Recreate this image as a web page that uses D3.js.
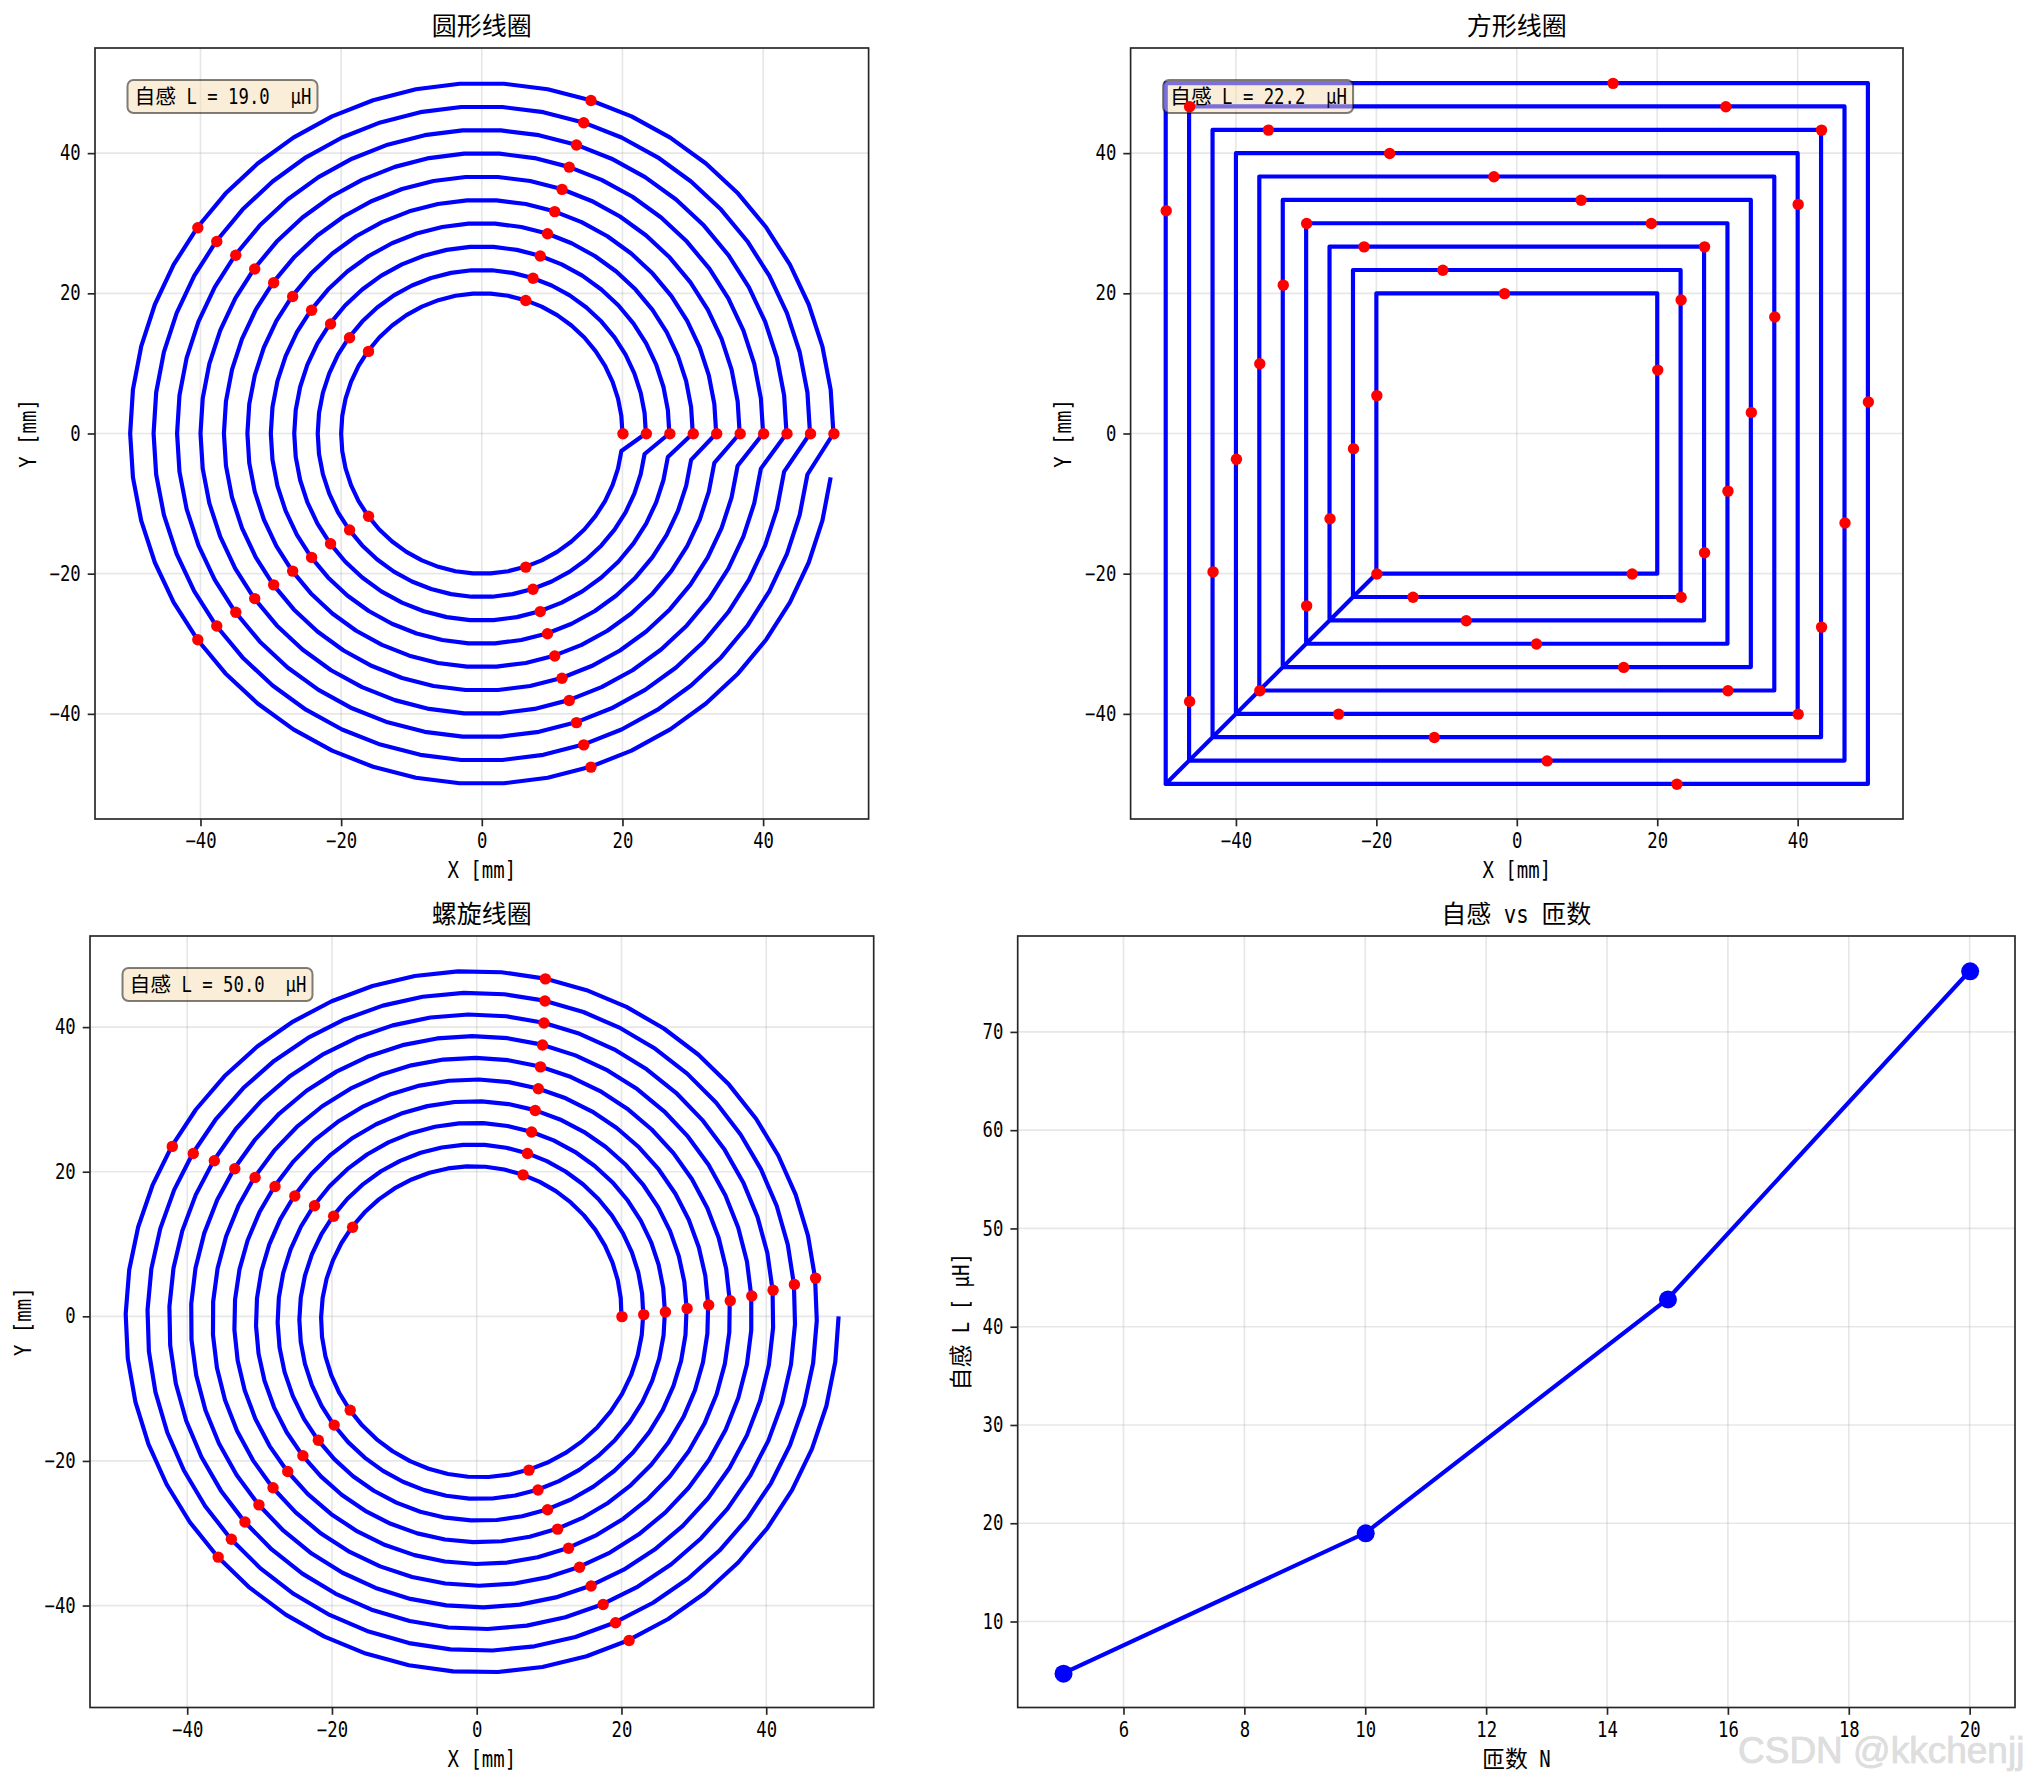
<!DOCTYPE html>
<html>
<head>
<meta charset="utf-8">
<script src="https://d3js.org/d3.v7.min.js"></script>
<style>
    html, body { margin: 0; padding: 0; background: #fff; }
    svg { display: block; }
    text { white-space: pre; fill: #000; }
</style>
</head>
<body>
<div id="chart"></div>
<script>
/*
DATA
*/
const titles = ["圆形线圈", "方形线圈", "螺旋线圈", "自感 vs 匝数"];
const boxLabels = ["自感 L = 19.0 μH", "自感 L = 22.2 μH", "自感 L = 50.0 μH"];
const coilTicks = [-40, -20, 0, 20, 40];
const turnTicks = [6, 8, 10, 12, 14, 16, 18, 20];
const inductanceTicks = [10, 20, 30, 40, 50, 60, 70];

// circular coil: radius of each turn, angle (deg) of each vertex in a turn
const circleRadius = [20, 23.33, 26.67, 30, 33.33, 36.67, 40, 43.33, 46.67, 50];
const circleAngle = [0, 7.2, 14.4, 21.6, 28.8, 36, 43.2, 50.4, 57.6, 64.8,
    72, 79.2, 86.4, 93.6, 100.8, 108, 115.2, 122.4, 129.6, 136.8,
    144, 151.2, 158.4, 165.6, 172.8, 180, 187.2, 194.4, 201.6, 208.8,
    216, 223.2, 230.4, 237.6, 244.8, 252, 259.2, 266.4, 273.6, 280.8,
    288, 295.2, 302.4, 309.6, 316.8, 324, 331.2, 338.4, 345.6, 352.8];

// square coil: half side of each turn, red points along the wire
const squareHalf = [20, 23.33, 26.67, 30, 33.33, 36.67, 40, 43.33, 46.67, 50];
const squareDotX = [-20, 16.36, 20, -1.82, -20, -14.85, 23.33, 23.33, -10.61, -23.33,
    -7.27, 26.67, 26.67, -21.82, -26.67, 2.73, 30, 19.09, -30, -30,
    15.15, 33.33, 9.09, -33.33, -36.67, 30, 36.67, -3.33, -36.67,
    -25.45, 40, 40, -18.18, -40, -11.82, 43.33, 43.33, -35.45, -43.33,
    4.24, 46.67, 29.7, -46.67, -46.67, 22.73, 50, 13.64, -50];
const squareDotY = [-20, -20, 9.09, 20, 5.45, -23.33, -23.33, 19.09, 23.33, -2.12,
    -26.67, -16.97, 26.67, 26.67, -12.12, -30, -8.18, 30, 30, -24.55,
    -33.33, 3.03, 33.33, 21.21, -36.67, -36.67, 16.67, 36.67, 10,
    -40, -40, 32.73, 40, -3.64, -43.33, -27.58, 43.33, 43.33, -19.7,
    -46.67, -12.73, 46.67, 46.67, -38.18, -50, 4.55, 50, 31.82];

// spiral coil: radius and angle (deg) of every vertex
const spiralRadius = [
    20.00,20.06,20.12,20.18,20.24,20.30,20.36,20.42,20.48,20.54,
    20.60,20.66,20.72,20.78,20.84,20.90,20.96,21.02,21.08,21.14,
    21.20,21.26,21.32,21.38,21.44,21.50,21.56,21.62,21.68,21.74,
    21.80,21.86,21.92,21.98,22.04,22.10,22.16,22.22,22.28,22.34,
    22.40,22.46,22.53,22.59,22.65,22.71,22.77,22.83,22.89,22.95,
    23.01,23.07,23.13,23.19,23.25,23.31,23.37,23.43,23.49,23.55,
    23.61,23.67,23.73,23.79,23.85,23.91,23.97,24.03,24.09,24.15,
    24.21,24.27,24.33,24.39,24.45,24.51,24.57,24.63,24.69,24.75,
    24.81,24.87,24.93,24.99,25.05,25.11,25.17,25.23,25.29,25.35,
    25.41,25.47,25.53,25.59,25.65,25.71,25.77,25.83,25.89,25.95,
    26.01,26.07,26.13,26.19,26.25,26.31,26.37,26.43,26.49,26.55,
    26.61,26.67,26.73,26.79,26.85,26.91,26.97,27.03,27.09,27.15,
    27.21,27.27,27.33,27.40,27.46,27.52,27.58,27.64,27.70,27.76,
    27.82,27.88,27.94,28.00,28.06,28.12,28.18,28.24,28.30,28.36,
    28.42,28.48,28.54,28.60,28.66,28.72,28.78,28.84,28.90,28.96,
    29.02,29.08,29.14,29.20,29.26,29.32,29.38,29.44,29.50,29.56,
    29.62,29.68,29.74,29.80,29.86,29.92,29.98,30.04,30.10,30.16,
    30.22,30.28,30.34,30.40,30.46,30.52,30.58,30.64,30.70,30.76,
    30.82,30.88,30.94,31.00,31.06,31.12,31.18,31.24,31.30,31.36,
    31.42,31.48,31.54,31.60,31.66,31.72,31.78,31.84,31.90,31.96,
    32.02,32.08,32.14,32.20,32.27,32.33,32.39,32.45,32.51,32.57,
    32.63,32.69,32.75,32.81,32.87,32.93,32.99,33.05,33.11,33.17,
    33.23,33.29,33.35,33.41,33.47,33.53,33.59,33.65,33.71,33.77,
    33.83,33.89,33.95,34.01,34.07,34.13,34.19,34.25,34.31,34.37,
    34.43,34.49,34.55,34.61,34.67,34.73,34.79,34.85,34.91,34.97,
    35.03,35.09,35.15,35.21,35.27,35.33,35.39,35.45,35.51,35.57,
    35.63,35.69,35.75,35.81,35.87,35.93,35.99,36.05,36.11,36.17,
    36.23,36.29,36.35,36.41,36.47,36.53,36.59,36.65,36.71,36.77,
    36.83,36.89,36.95,37.01,37.07,37.14,37.20,37.26,37.32,37.38,
    37.43,37.50,37.56,37.62,37.68,37.74,37.80,37.86,37.92,37.98,
    38.04,38.10,38.16,38.22,38.28,38.34,38.40,38.46,38.52,38.58,
    38.64,38.70,38.76,38.82,38.88,38.94,39.00,39.06,39.12,39.18,
    39.24,39.30,39.36,39.42,39.48,39.54,39.60,39.66,39.72,39.78,
    39.84,39.90,39.96,40.02,40.08,40.14,40.20,40.26,40.32,40.38,
    40.44,40.50,40.56,40.62,40.68,40.74,40.80,40.86,40.92,40.98,
    41.04,41.10,41.16,41.22,41.28,41.34,41.40,41.46,41.52,41.58,
    41.64,41.70,41.76,41.82,41.88,41.94,42.00,42.06,42.12,42.18,
    42.24,42.30,42.36,42.42,42.48,42.54,42.60,42.66,42.72,42.78,
    42.85,42.91,42.97,43.03,43.09,43.15,43.21,43.27,43.33,43.39,
    43.45,43.51,43.57,43.63,43.69,43.75,43.81,43.87,43.93,43.99,
    44.05,44.11,44.17,44.23,44.29,44.35,44.41,44.47,44.53,44.59,
    44.65,44.71,44.77,44.83,44.89,44.95,45.01,45.07,45.13,45.19,
    45.25,45.31,45.37,45.43,45.49,45.55,45.61,45.67,45.73,45.79,
    45.85,45.91,45.97,46.03,46.09,46.15,46.21,46.27,46.33,46.39,
    46.45,46.51,46.57,46.63,46.69,46.75,46.81,46.87,46.93,46.99,
    47.05,47.11,47.17,47.23,47.29,47.35,47.41,47.47,47.53,47.59,
    47.65,47.71,47.78,47.84,47.90,47.96,48.02,48.08,48.14,48.20,
    48.26,48.32,48.38,48.44,48.50,48.56,48.62,48.68,48.74,48.80,
    48.86,48.92,48.98,49.04,49.10,49.16,49.22,49.28,49.34,49.40,
    49.46,49.52,49.58,49.64,49.70,49.76,49.82,49.88,49.94,50.00];
const spiralAngle = [
    0,7.2,14.4,21.6,28.9,36.1,43.3,50.5,57.7,64.9,
    72.1,79.4,86.6,93.8,101.0,108.2,115.4,122.7,129.9,137.1,
    144.3,151.5,158.7,165.9,173.2,180.4,187.6,194.8,202.0,209.2,
    216.4,223.6,230.9,238.1,245.3,252.5,259.7,266.9,274.2,281.4,
    288.6,295.8,303.0,310.2,317.4,324.6,331.9,339.1,346.3,353.5,
    360.7,367.9,375.2,382.4,389.6,396.8,404.0,411.2,418.5,425.7,
    432.9,440.1,447.3,454.5,461.7,468.9,476.2,483.4,490.6,497.8,
    505.0,512.2,519.4,526.7,533.9,541.1,548.3,555.5,562.7,570.0,
    577.2,584.4,591.6,598.8,606.0,613.2,620.4,627.7,634.9,642.1,
    649.3,656.5,663.7,670.9,678.2,685.4,692.6,699.8,707.0,714.2,
    721.4,728.7,735.9,743.1,750.3,757.5,764.7,771.9,779.2,786.4,
    793.6,800.8,808.0,815.2,822.4,829.7,836.9,844.1,851.3,858.5,
    865.7,872.9,880.2,887.4,894.6,901.8,909.0,916.2,923.5,930.7,
    937.9,945.1,952.3,959.5,966.7,973.9,981.2,988.4,995.6,1002.8,
    1010.0,1017.2,1024.4,1031.7,1038.9,1046.1,1053.3,1060.5,1067.7,1074.9,
    1082.2,1089.4,1096.6,1103.8,1111.0,1118.2,1125.4,1132.7,1139.9,1147.1,
    1154.3,1161.5,1168.7,1175.9,1183.2,1190.4,1197.6,1204.8,1212.0,1219.2,
    1226.5,1233.7,1240.9,1248.1,1255.3,1262.5,1269.7,1276.9,1284.2,1291.4,
    1298.6,1305.8,1313.0,1320.2,1327.5,1334.7,1341.9,1349.1,1356.3,1363.5,
    1370.7,1378.0,1385.2,1392.4,1399.6,1406.8,1414.0,1421.2,1428.5,1435.7,
    1442.9,1450.1,1457.3,1464.5,1471.7,1479.0,1486.2,1493.4,1500.6,1507.8,
    1515.0,1522.2,1529.5,1536.7,1543.9,1551.1,1558.3,1565.5,1572.7,1580.0,
    1587.2,1594.4,1601.6,1608.8,1616.0,1623.2,1630.5,1637.7,1644.9,1652.1,
    1659.3,1666.5,1673.7,1681.0,1688.2,1695.4,1702.6,1709.8,1717.0,1724.2,
    1731.5,1738.7,1745.9,1753.1,1760.3,1767.5,1774.7,1782.0,1789.2,1796.4,
    1803.6,1810.8,1818.0,1825.2,1832.5,1839.7,1846.9,1854.1,1861.3,1868.5,
    1875.8,1883.0,1890.2,1897.4,1904.6,1911.8,1919.0,1926.3,1933.5,1940.7,
    1947.9,1955.1,1962.3,1969.5,1976.8,1984.0,1991.2,1998.4,2005.6,2012.8,
    2020.0,2027.3,2034.5,2041.7,2048.9,2056.1,2063.3,2070.5,2077.8,2085.0,
    2092.2,2099.4,2106.6,2113.8,2121.0,2128.3,2135.5,2142.7,2149.9,2157.1,
    2164.3,2171.5,2178.8,2186.0,2193.2,2200.4,2207.6,2214.8,2222.0,2229.3,
    2236.5,2243.7,2250.9,2258.1,2265.3,2272.5,2279.8,2287.0,2294.2,2301.4,
    2308.6,2315.8,2323.0,2330.3,2337.5,2344.7,2351.9,2359.1,2366.3,2373.5,
    2380.8,2388.0,2395.2,2402.4,2409.6,2416.8,2424.0,2431.3,2438.5,2445.7,
    2452.9,2460.1,2467.3,2474.5,2481.8,2489.0,2496.2,2503.4,2510.6,2517.8,
    2525.1,2532.3,2539.5,2546.7,2553.9,2561.1,2568.3,2575.5,2582.8,2590.0,
    2597.2,2604.4,2611.6,2618.8,2626.1,2633.3,2640.5,2647.7,2654.9,2662.1,
    2669.3,2676.6,2683.8,2691.0,2698.2,2705.4,2712.6,2719.8,2727.1,2734.3,
    2741.5,2748.7,2755.9,2763.1,2770.3,2777.6,2784.8,2792.0,2799.2,2806.4,
    2813.6,2820.8,2828.1,2835.3,2842.5,2849.7,2856.9,2864.1,2871.3,2878.6,
    2885.8,2893.0,2900.2,2907.4,2914.6,2921.8,2929.1,2936.3,2943.5,2950.7,
    2957.9,2965.1,2972.3,2979.6,2986.8,2994.0,3001.2,3008.4,3015.6,3022.8,
    3030.1,3037.3,3044.5,3051.7,3058.9,3066.1,3073.3,3080.6,3087.8,3095.0,
    3102.2,3109.4,3116.6,3123.8,3131.1,3138.3,3145.5,3152.7,3159.9,3167.1,
    3174.3,3181.6,3188.8,3196.0,3203.2,3210.4,3217.6,3224.8,3232.1,3239.3,
    3246.5,3253.7,3260.9,3268.1,3275.3,3282.6,3289.8,3297.0,3304.2,3311.4,
    3318.6,3325.9,3333.1,3340.3,3347.5,3354.7,3361.9,3369.1,3376.4,3383.6,
    3390.8,3398.0,3405.2,3412.4,3419.6,3426.9,3434.1,3441.3,3448.5,3455.7,
    3462.9,3470.1,3477.4,3484.6,3491.8,3499.0,3506.2,3513.4,3520.6,3527.9,
    3535.1,3542.3,3549.5,3556.7,3563.9,3571.1,3578.4,3585.6,3592.8,3600.0];

// inductance against number of turns
const turnCounts = [5, 10, 15, 20];
const inductance = [4.72, 19.0, 42.8, 76.2];

/*
CREATE SVG CANVAS
*/
const width = 2029;
const height = 1785;
const blue = "#0000ff";
const red = "#ff0000";
const spineColor = "#262626";
const cjkFont = "'Noto Sans CJK SC'";
const latinFont = "'DejaVu Sans Mono'";
const tickSize = 20.8;
const labelSize = 22.9;
const titleSize = 25;

const svg = d3.select("#chart")
    .append("svg")
    .attr("width", width)
    .attr("height", height);

// SimHei style text: latin runs are squeezed to half an em per character,
// the mu takes a whole em there so it gets a spare half-em in front
function mixedText(sel, str, size) {
    sel.text(null).attr("font-size", size);
    const runs = str.match(/[\u4e00-\u9fff]+|[^\u4e00-\u9fff]+/g);
    runs.forEach(function (run) {
        const isCjk = /[\u4e00-\u9fff]/.test(run);
        const shown = isCjk ? run : run.replace("μ", " μ");
        const span = sel.append("tspan")
            .attr("font-family", isCjk ? cjkFont : latinFont)
            .text(shown);
        if (!isCjk) {
            span.attr("textLength", shown.length * size / 2)
                .attr("lengthAdjust", "spacingAndGlyphs");
        }
    });
}

function polar(r, deg) {
    const a = deg * Math.PI / 180;
    return [r * Math.cos(a), r * Math.sin(a)];
}

/*
DRAW ONE PANEL FRAME: GRID, AXES, LABELS
*/
function drawFrame(box, xDomain, yDomain, xTicks, yTicks, title, xLabel, yLabel, yLabelX) {
    const g = svg.append("g");
    const xScale = d3.scaleLinear().domain(xDomain).range([box.left, box.right]);
    const yScale = d3.scaleLinear().domain(yDomain).range([box.bottom, box.top]);

    g.append("g").selectAll("line")
        .data(xTicks)
        .enter()
        .append("line")
        .attr("x1", d => xScale(d))
        .attr("x2", d => xScale(d))
        .attr("y1", box.top)
        .attr("y2", box.bottom)
        .attr("stroke", "#b0b0b0")
        .attr("stroke-opacity", 0.3)
        .attr("stroke-width", 1.67);

    g.append("g").selectAll("line")
        .data(yTicks)
        .enter()
        .append("line")
        .attr("x1", box.left)
        .attr("x2", box.right)
        .attr("y1", d => yScale(d))
        .attr("y2", d => yScale(d))
        .attr("stroke", "#b0b0b0")
        .attr("stroke-opacity", 0.3)
        .attr("stroke-width", 1.67);

    const xAxis = g.append("g")
        .attr("transform", `translate(0,${box.bottom})`)
        .call(d3.axisBottom(xScale).tickValues(xTicks).tickSize(7.3).tickSizeOuter(0).tickPadding(7));
    const yAxis = g.append("g")
        .attr("transform", `translate(${box.left},0)`)
        .call(d3.axisLeft(yScale).tickValues(yTicks).tickSize(7.3).tickSizeOuter(0).tickPadding(7));

    [xAxis, yAxis].forEach(function (axis) {
        axis.select(".domain").remove();
        axis.selectAll(".tick line").attr("stroke", spineColor).attr("stroke-width", 1.67);
        axis.selectAll(".tick text").each(function () {
            const t = d3.select(this);
            mixedText(t, t.text(), tickSize);
        });
    });

    const midX = (box.left + box.right) / 2;
    const midY = (box.top + box.bottom) / 2;

    g.append("text")
        .attr("x", midX)
        .attr("y", box.top - 13)
        .attr("text-anchor", "middle")
        .call(mixedText, title, titleSize);

    g.append("text")
        .attr("x", midX)
        .attr("y", box.bottom + 59)
        .attr("text-anchor", "middle")
        .call(mixedText, xLabel, labelSize);

    g.append("text")
        .attr("transform", `translate(${yLabelX},${midY}) rotate(-90)`)
        .attr("text-anchor", "middle")
        .call(mixedText, yLabel, labelSize);

    return { xScale: xScale, yScale: yScale };
}

function drawSpine(box) {
    svg.append("rect")
        .attr("x", box.left)
        .attr("y", box.top)
        .attr("width", box.right - box.left)
        .attr("height", box.bottom - box.top)
        .attr("fill", "none")
        .attr("stroke", spineColor)
        .attr("stroke-width", 1.67);
}

function drawWire(points, scales) {
    const line = d3.line()
        .x(d => scales.xScale(d[0]))
        .y(d => scales.yScale(d[1]));

    svg.append("path")
        .attr("d", line(points))
        .attr("fill", "none")
        .attr("stroke", blue)
        .attr("stroke-width", 4.17)
        .attr("stroke-linejoin", "round");
}

// the red points sit on top of the info box in the reference
function drawDots(dots, scales) {
    svg.append("g")
        .attr("transform", "translate(0.5,0.3)")
        .selectAll("circle")
        .data(dots)
        .enter()
        .append("circle")
        .attr("cx", d => scales.xScale(d[0]))
        .attr("cy", d => scales.yScale(d[1]))
        .attr("r", 5.7)
        .attr("fill", red);
}

function drawInfoBox(box, label) {
    const left = box.left + 32.5;
    const top = box.top + 32;
    svg.append("rect")
        .attr("x", left)
        .attr("y", top)
        .attr("width", 190)
        .attr("height", 33)
        .attr("rx", 6)
        .attr("fill", "#f5deb3")
        .attr("fill-opacity", 0.5)
        .attr("stroke", "#000")
        .attr("stroke-opacity", 0.5)
        .attr("stroke-width", 2);

    svg.append("text")
        .attr("x", left + 7)
        .attr("y", top + 24)
        .call(mixedText, label, tickSize);
}

/*
PANEL BOXES
*/
const circleBox = { left: 95, right: 868.6, top: 48, bottom: 819 };
const squareBox = { left: 1130.6, right: 1903, top: 48, bottom: 819 };
const spiralBox = { left: 90, right: 873.7, top: 936, bottom: 1707.5 };
const curveBox = { left: 1017.7, right: 2015, top: 936, bottom: 1707.5 };

/*
CIRCULAR COIL
*/
const circleScales = drawFrame(circleBox, [-55, 55], [-55, 55], coilTicks, coilTicks,
    titles[0], "X [mm]", "Y [mm]", 36);
const circlePoints = [];
const circleDots = [];
circleRadius.forEach(function (r) {
    circleAngle.forEach(function (deg, i) {
        circlePoints.push(polar(r, deg));
        if (i % 10 === 0) circleDots.push(polar(r, deg));
    });
});
drawWire(circlePoints, circleScales);
drawSpine(circleBox);
drawInfoBox(circleBox, boxLabels[0]);
drawDots(circleDots, circleScales);

/*
SQUARE COIL
*/
const squareScales = drawFrame(squareBox, [-55, 55], [-55, 55], coilTicks, coilTicks,
    titles[1], "X [mm]", "Y [mm]", 1071);
const squarePoints = [];
squareHalf.forEach(function (h) {
    squarePoints.push([-h, -h], [h, -h], [h, h], [-h, h], [-h, -h]);
});
drawWire(squarePoints, squareScales);
drawSpine(squareBox);
drawInfoBox(squareBox, boxLabels[1]);
drawDots(squareDotX.map((x, i) => [x, squareDotY[i]]), squareScales);

/*
SPIRAL COIL
*/
const spiralScales = drawFrame(spiralBox, [-53.43, 54.85], [-54.1, 52.6], coilTicks, coilTicks,
    titles[2], "X [mm]", "Y [mm]", 31);
const spiralPoints = spiralRadius.map((r, i) => polar(r, spiralAngle[i]));
drawWire(spiralPoints, spiralScales);
drawSpine(spiralBox);
drawInfoBox(spiralBox, boxLabels[2]);
drawDots(spiralPoints.filter((d, i) => i % 10 === 0), spiralScales);

/*
INDUCTANCE VS TURNS
*/
const curveScales = drawFrame(curveBox, [4.25, 20.75], [1.25, 79.76], turnTicks, inductanceTicks,
    titles[3], "匝数 N", "自感 L [μH]", 969);
const curvePoints = turnCounts.map((n, i) => [n, inductance[i]]);

svg.append("path")
    .attr("d", d3.line()
        .x(d => curveScales.xScale(d[0]))
        .y(d => curveScales.yScale(d[1]))(curvePoints))
    .attr("fill", "none")
    .attr("stroke", blue)
    .attr("stroke-width", 4.17);

svg.append("g")
    .attr("transform", "translate(0.5,0.3)")
    .selectAll("circle")
    .data(curvePoints)
    .enter()
    .append("circle")
    .attr("cx", d => curveScales.xScale(d[0]))
    .attr("cy", d => curveScales.yScale(d[1]))
    .attr("r", 9)
    .attr("fill", blue);
drawSpine(curveBox);

/*
WATERMARK
*/
svg.append("text")
    .attr("x", 1738)
    .attr("y", 1763)
    .attr("font-family", "'Liberation Sans'")
    .attr("font-size", 37)
    .style("fill", "#dedede")
    .style("paint-order", "stroke")
    .attr("stroke", "#d0d0d0")
    .attr("stroke-width", 0.6)
    .text("CSDN @kkchenjj");
</script>
</body>
</html>
